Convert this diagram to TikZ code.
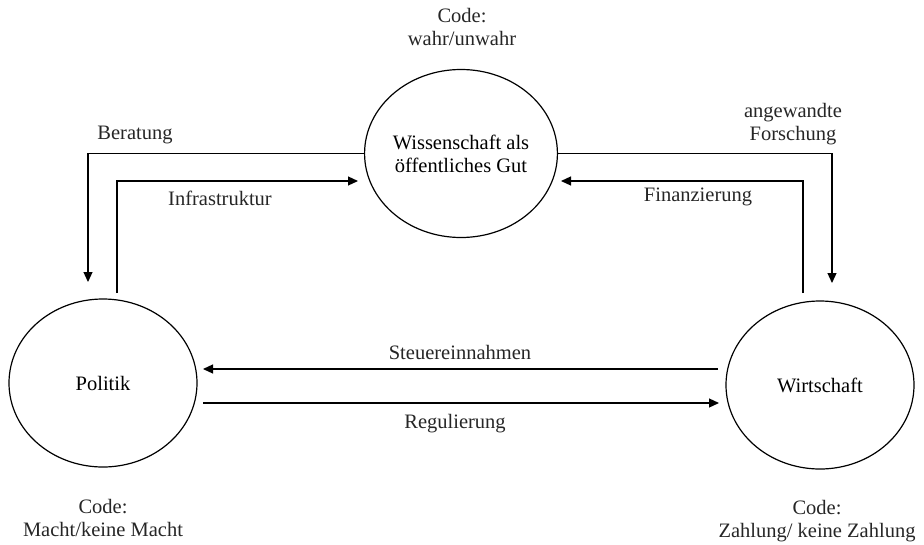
\documentclass[tikz,border=0pt]{standalone}
\usepackage{fontspec}
\setmainfont{Liberation Serif}
\usetikzlibrary{arrows.meta,shapes.geometric}

\tikzset{
  sys/.style={draw, ellipse, line width=1.2pt, minimum width=188pt, minimum height=168pt, inner sep=0pt, align=center},
  lbl/.style={align=center, inner sep=0pt, text=black!85},
  flow/.style={line width=1.2pt, -{Triangle[length=10pt,width=9pt]}},
  plain/.style={line width=1.2pt}
}

\begin{document}
\begin{tikzpicture}[x=1pt, y=-1pt, font=\fontsize{20.5}{23}\selectfont]
  \useasboundingbox (0,0) rectangle (924,544);

  % the three subsystems
  \node[sys] (wiss) at (461,153.5) {Wissenschaft als\\öffentliches Gut};
  \node[sys] (pol)  at (103,383) {Politik};
  \node[sys] (wirt) at (820,385) {Wirtschaft};

  % free ends of the connectors
  \coordinate (berEnd)  at (88,282);
  \coordinate (infStart) at (117,293);
  \coordinate (infEnd)  at (358,181);
  \coordinate (forEnd)  at (832,283);
  \coordinate (finStart) at (803,293);
  \coordinate (finEnd)  at (561,181);
  \coordinate (stStart) at (718,369);
  \coordinate (stEnd)   at (203,369);
  \coordinate (regStart) at (203,403);
  \coordinate (regEnd)  at (719,403);

  % connectors
  \draw[flow] (wiss.west) -| (berEnd);
  \draw[flow] (infStart) |- (infEnd);
  \draw[flow] (wiss.east) -| (forEnd);
  \draw[flow] (finStart) |- (finEnd);
  \draw[flow] (stStart) -- (stEnd);
  \draw[flow] (regStart) -- (regEnd);

  % connector labels
  \node[lbl] (lBer) at (135,135) {Beratung};
  \node[lbl] (lInf) at (220,198) {Infrastruktur};
  \node[lbl] (lFor) at (793,124) {angewandte\\Forschung};
  \node[lbl] (lFin) at (698,197) {Finanzierung};
  \node[lbl] (lSt)  at (460,352) {Steuereinnahmen};
  \node[lbl] (lReg) at (455,424) {Regulierung};

  % codes of the subsystems
  \node[lbl] (cWiss) at (462,27)  {Code:\\wahr/unwahr};
  \node[lbl] (cPol)  at (103,518) {Code:\\Macht/keine Macht};
  \node[lbl] (cWirt) at (817,521) {Code:\\Zahlung/ keine Zahlung};
\end{tikzpicture}
\end{document}
